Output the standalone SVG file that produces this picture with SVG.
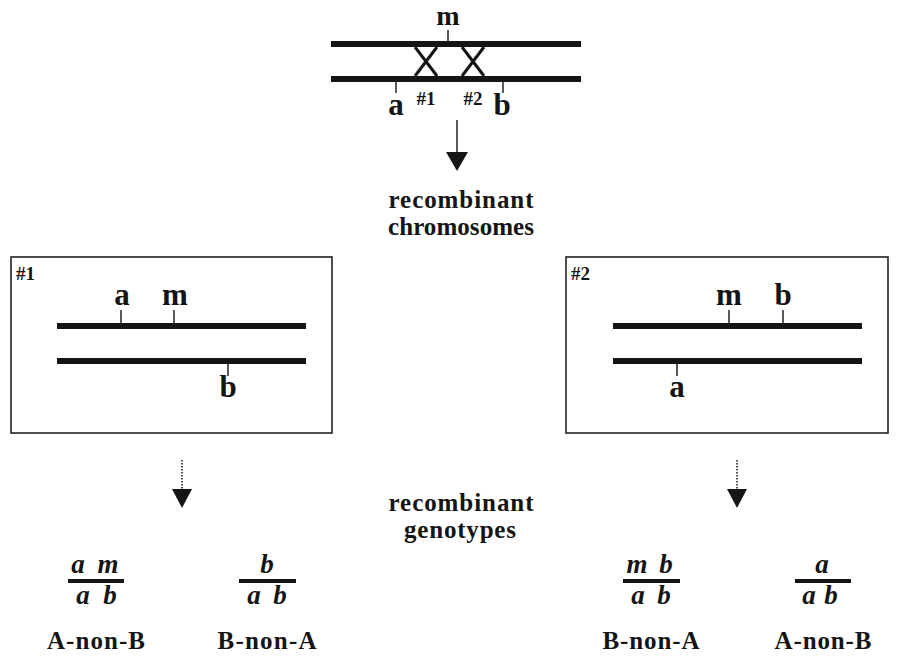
<svg xmlns="http://www.w3.org/2000/svg" width="900" height="657" viewBox="0 0 900 657">
<style>
.t{font-family:"Liberation Serif","Times New Roman",serif;font-weight:bold;fill:#151515}
.big{font-size:31px;text-anchor:middle}
.num{font-size:19px}
.lbl{font-size:25px;text-anchor:middle}
.it{font-size:27px;font-style:italic;text-anchor:middle}
.chr{stroke:#151515;stroke-width:6;fill:none}
.tick{stroke:#151515;stroke-width:1.4}
.box{fill:none;stroke:#222;stroke-width:1.6}
.bar{stroke:#151515;stroke-width:4}
.x{stroke:#151515;stroke-width:3}
.head{fill:#151515}
</style>
<rect width="900" height="657" fill="#fff"/>
<g id="parent">
<line class="chr" x1="331" y1="44" x2="581" y2="44"/>
<line class="chr" x1="331" y1="79" x2="581" y2="79"/>
<line class="x" x1="415" y1="47" x2="437" y2="76"/>
<line class="x" x1="437" y1="47" x2="415" y2="76"/>
<line class="x" x1="462" y1="47" x2="484" y2="76"/>
<line class="x" x1="484" y1="47" x2="462" y2="76"/>
<line class="tick" x1="448" y1="30" x2="448" y2="41"/>
<line class="tick" x1="396" y1="82" x2="396" y2="93"/>
<line class="tick" x1="503" y1="82" x2="503" y2="93"/>
<text class="t big" x="448" y="25" style="font-size:28px">m</text>
<text class="t big" x="396" y="115">a</text>
<text class="t big" x="502" y="115">b</text>
<text class="t num" x="426" y="105" text-anchor="middle">#1</text>
<text class="t num" x="473" y="105" text-anchor="middle">#2</text>
</g>
<g id="connectors">
<line class="tick" x1="457" y1="120" x2="457" y2="153"/>
<polygon class="head" points="446,152 468,152 457,171"/>
<line x1="182" y1="460" x2="182" y2="490" stroke="#151515" stroke-width="1.5" stroke-dasharray="1.5 1.5"/>
<polygon class="head" points="172,489 192,489 182,508"/>
<line x1="737" y1="460" x2="737" y2="490" stroke="#151515" stroke-width="1.5" stroke-dasharray="1.5 1.5"/>
<polygon class="head" points="727,489 747,489 737,508"/>
</g>
<g id="label-chromosomes">
<text class="t lbl" x="461" y="208" textLength="145">recombinant</text>
<text class="t lbl" x="461" y="235" textLength="146">chromosomes</text>
</g>
<g id="box1">
<rect class="box" x="11" y="257" width="321" height="176"/>
<text class="t num" x="16" y="280">#1</text>
<line class="chr" x1="57" y1="326" x2="306" y2="326"/>
<line class="chr" x1="57" y1="361" x2="306" y2="361"/>
<line class="tick" x1="121" y1="310" x2="121" y2="323"/>
<line class="tick" x1="174" y1="310" x2="174" y2="323"/>
<line class="tick" x1="228" y1="364" x2="228" y2="376"/>
<text class="t big" x="122" y="305">a</text>
<text class="t big" x="175" y="305">m</text>
<text class="t big" x="228" y="397">b</text>
</g>
<g id="box2">
<rect class="box" x="566" y="257" width="322" height="176"/>
<text class="t num" x="571" y="280">#2</text>
<line class="chr" x1="613" y1="326" x2="862" y2="326"/>
<line class="chr" x1="613" y1="361" x2="862" y2="361"/>
<line class="tick" x1="729" y1="310" x2="729" y2="323"/>
<line class="tick" x1="783" y1="310" x2="783" y2="323"/>
<line class="tick" x1="677" y1="364" x2="677" y2="376"/>
<text class="t big" x="729" y="305">m</text>
<text class="t big" x="783" y="305">b</text>
<text class="t big" x="677" y="397">a</text>
</g>
<g id="label-genotypes">
<text class="t lbl" x="461" y="511" textLength="145">recombinant</text>
<text class="t lbl" x="460" y="538" textLength="112">genotypes</text>
</g>
<g id="geno1">
<text class="t it" y="573"><tspan x="78">a</tspan><tspan x="108">m</tspan></text>
<line class="bar" x1="68" y1="581" x2="124" y2="581"/>
<text class="t it" y="604"><tspan x="83">a</tspan><tspan x="110">b</tspan></text>
<text class="t lbl" x="96" y="649" textLength="98">A-non-B</text>
</g>
<g id="geno2">
<text class="t it" x="267" y="573">b</text>
<line class="bar" x1="239" y1="581" x2="296" y2="581"/>
<text class="t it" y="604"><tspan x="254">a</tspan><tspan x="280">b</tspan></text>
<text class="t lbl" x="267" y="649" textLength="99">B-non-A</text>
</g>
<g id="geno3">
<text class="t it" y="573"><tspan x="637">m</tspan><tspan x="666">b</tspan></text>
<line class="bar" x1="623" y1="581" x2="680" y2="581"/>
<text class="t it" y="604"><tspan x="638">a</tspan><tspan x="664">b</tspan></text>
<text class="t lbl" x="651" y="649" textLength="97">B-non-A</text>
</g>
<g id="geno4">
<text class="t it" x="822" y="573">a</text>
<line class="bar" x1="795" y1="581" x2="851" y2="581"/>
<text class="t it" y="604"><tspan x="809">a</tspan><tspan x="831">b</tspan></text>
<text class="t lbl" x="823" y="649" textLength="97">A-non-B</text>
</g>
</svg>
